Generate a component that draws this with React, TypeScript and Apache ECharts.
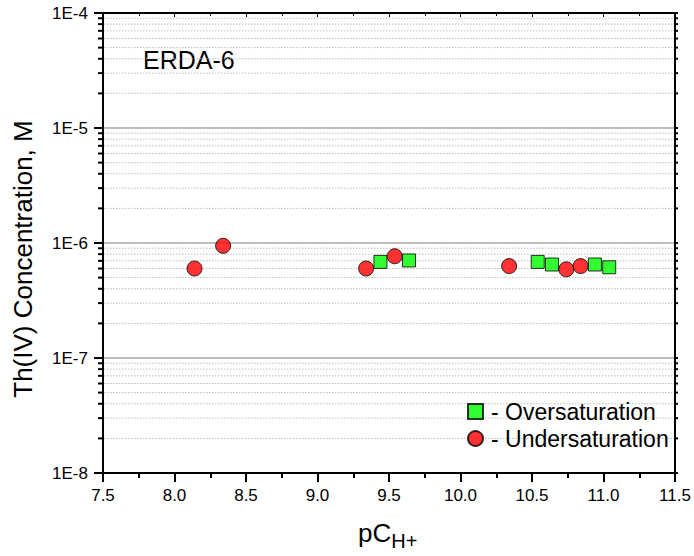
import React, { useEffect, useRef } from "react";
import * as echarts from "echarts";

const xMin = 7.5;
const xMax = 11.5;
const xStep = 0.5;
const yMin = 1e-8;
const yMax = 1e-4;

const overName = "Oversaturation";
const overX = [9.44, 9.64, 10.54, 10.64, 10.94, 11.04];
const overY = [6.85e-7, 7.05e-7, 6.85e-7, 6.5e-7, 6.5e-7, 6.15e-7];

const underName = "Undersaturation";
const underX = [8.14, 8.34, 9.34, 9.54, 10.34, 10.74, 10.84];
const underY = [6.0e-7, 9.45e-7, 6.0e-7, 7.67e-7, 6.3e-7, 5.9e-7, 6.3e-7];

const decades = [-8, -7, -6, -5];
const minorMultipliers = [2, 3, 4, 5, 6, 7, 8, 9];

const panelLabel = "ERDA-6";
const yTitle = "Th(IV) Concentration, M";

const FONT = "'Liberation Sans', Arial, sans-serif";

export default function App() {
  const ref = useRef<HTMLDivElement>(null);
  useEffect(() => {
    if (!ref.current) return;
    const chart = echarts.init(ref.current, undefined, { renderer: "svg" });
    const minorVals: number[] = [];
    decades.forEach((d) => minorMultipliers.forEach((m) => minorVals.push(m * Math.pow(10, d))));

    const option: any = {
      animation: false,
      backgroundColor: "#fff",
      textStyle: { fontFamily: FONT },
      grid: { left: 103, right: 19, top: 13, bottom: 83, containLabel: false },
      xAxis: [
        {
          type: "value",
          min: xMin,
          max: xMax,
          interval: xStep,
          axisLine: { show: true, onZero: false, lineStyle: { color: "#000", width: 2 } },
          axisTick: { show: true, inside: false, length: 9, lineStyle: { color: "#000", width: 2 } },
          minorTick: { show: true, splitNumber: 2, length: 5, lineStyle: { color: "#000", width: 2 } },
          axisLabel: {
            color: "#000",
            fontSize: 17,
            fontFamily: FONT,
            margin: 14,
            formatter: (v: number) => v.toFixed(1),
          },
          splitLine: { show: false },
        },
        {
          type: "value",
          position: "top",
          min: xMin,
          max: xMax,
          interval: xStep,
          axisLine: { show: true, onZero: false, lineStyle: { color: "#000", width: 2 } },
          axisTick: { show: true, inside: true, length: 4, lineStyle: { color: "#000", width: 1 } },
          minorTick: { show: true, splitNumber: 2, length: 3, lineStyle: { color: "#000", width: 1 } },
          axisLabel: { show: false },
          splitLine: { show: false },
        },
      ],
      yAxis: [
        {
          type: "log",
          logBase: 10,
          min: yMin,
          max: yMax,
          axisLine: { show: true, onZero: false, lineStyle: { color: "#000", width: 2 } },
          axisTick: { show: true, inside: false, length: 9, lineStyle: { color: "#000", width: 2 } },
          axisLabel: {
            color: "#000",
            fontSize: 17,
            fontFamily: FONT,
            margin: 15,
            formatter: (v: number) => "1E" + Math.round(Math.log10(v)),
          },
          splitLine: { show: true, lineStyle: { color: "#a8a8a8", width: 1.5 } },
        },
        {
          type: "log",
          logBase: 10,
          position: "right",
          min: yMin,
          max: yMax,
          axisLine: { show: true, onZero: false, lineStyle: { color: "#000", width: 2 } },
          axisTick: { show: true, inside: false, length: 3, lineStyle: { color: "#000", width: 2 } },
          axisLabel: { show: false },
          splitLine: { show: false },
        },
      ],
      legend: {
        orient: "vertical",
        left: 462,
        top: 395,
        itemWidth: 15,
        itemHeight: 15,
        itemGap: 4,
        data: [
          { name: overName, icon: "rect" },
          { name: underName, icon: "circle" },
        ],
        formatter: (n: string) => "- " + n,
        textStyle: { color: "#000", fontSize: 23, fontFamily: FONT, padding: [0, 0, 0, 3] },
      },
      series: [
        {
          type: "custom",
          name: "minor",
          silent: true,
          clip: false,
          z: 1,
          data: minorVals.map((v) => [xMin, v]),
          renderItem: (params: any, api: any) => {
            const v = api.value(1);
            const p0 = api.coord([xMin, v]);
            const p1 = api.coord([xMax, v]);
            return {
              type: "group",
              children: [
                {
                  type: "line",
                  shape: { x1: p0[0] + 1, y1: p0[1], x2: p1[0] - 1, y2: p1[1] },
                  style: { stroke: "#bdbdbd", lineWidth: 1, lineDash: [1.5, 1.5] },
                },
                {
                  type: "line",
                  shape: { x1: p0[0] - 5, y1: p0[1], x2: p0[0], y2: p0[1] },
                  style: { stroke: "#000", lineWidth: 2 },
                },
                {
                  type: "line",
                  shape: { x1: p1[0], y1: p1[1], x2: p1[0] + 3, y2: p1[1] },
                  style: { stroke: "#000", lineWidth: 2 },
                },
              ],
            };
          },
        },
        {
          type: "scatter",
          name: overName,
          symbol: "rect",
          symbolSize: 13,
          z: 3,
          itemStyle: { color: "#00ff00", borderColor: "#000", borderWidth: 1 },
          data: overX.map((x, i) => [x, overY[i]]),
        },
        {
          type: "scatter",
          name: underName,
          symbol: "circle",
          symbolSize: 15,
          z: 4,
          itemStyle: { color: "#ff0000", borderColor: "#000", borderWidth: 1 },
          data: underX.map((x, i) => [x, underY[i]]),
        },
      ],
      graphic: [
        {
          type: "text",
          left: 143,
          top: 47,
          style: { text: panelLabel, fontSize: 25, fontFamily: FONT, fill: "#000" },
        },
        {
          type: "text",
          x: 23,
          y: 259,
          rotation: Math.PI / 2,
          style: {
            text: yTitle,
            fontSize: 26,
            fontFamily: FONT,
            fill: "#000",
            align: "center",
            verticalAlign: "middle",
          },
        },
        {
          type: "text",
          x: 358,
          y: 520,
          style: {
            text: "{a|pC}{b|H+}",
            fontFamily: FONT,
            fill: "#000",
            rich: {
              a: { fontSize: 26, fontFamily: FONT, fill: "#000", verticalAlign: "top", lineHeight: 28 },
              b: { fontSize: 20, fontFamily: FONT, fill: "#000", padding: [14, 0, 0, 0], lineHeight: 28 },
            },
          },
        },
      ],
    };
    chart.setOption(option);
    return () => chart.dispose();
  }, []);
  return (
    <div
      ref={ref}
      style={{ position: "fixed", left: 0, top: 0, width: 694, height: 556 }}
    />
  );
}
